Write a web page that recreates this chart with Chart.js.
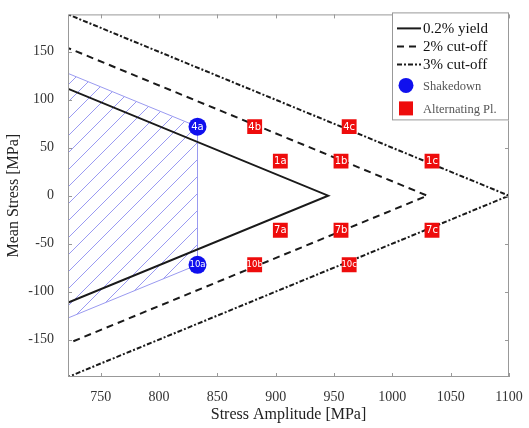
<!DOCTYPE html>
<html>
<head>
<meta charset="utf-8">
<script src="https://cdn.jsdelivr.net/npm/chart.js@4.4.0/dist/chart.umd.min.js"></script>
<style>
  html, body { margin: 0; padding: 0; background: #fff; }
  #wrap { width: 529px; height: 428px; }
</style>
</head>
<body>
<div id="wrap"><canvas id="myChart"></canvas></div>
<script>
// axis ticks
var xTicks = [750, 800, 850, 900, 950, 1000, 1050, 1100];
var yTicks = [-150, -100, -50, 0, 50, 100, 150];

// limit lines (stress amplitude / mean stress)
var yieldAmp = [700, 945, 700];
var yieldMean = [122.5, 0, -122.5];
var cut2Amp = [700, 1030, 700];
var cut2Mean = [165, 0, -165];
var cut3Amp = [700, 1100, 700];
var cut3Mean = [200, 0, -200];

// hatched shakedown region
var safeAmp = [722, 833, 833, 722, 722];
var safeMean = [127.5, 72, -72, -127.5, 127.5];

// test points
var shakeLabels = ['4a', '10a'];
var shakeAmp = [833, 833];
var shakeMean = [72, -72];
var altLabels = ['4b', '4c', '1a', '1b', '1c', '7a', '7b', '7c', '10b', '10c'];
var altAmp = [882, 963, 904, 956, 1034, 904, 956, 1034, 882, 963];
var altMean = [72, 72, 36, 36, 36, -36, -36, -36, -72, -72];

function pts(xs, ys) {
  return xs.map(function (x, i) { return { x: x, y: ys[i] }; });
}

// diagonal hatch pattern
function hatch() {
  var c = document.createElement('canvas');
  c.width = 17; c.height = 17;
  var g = c.getContext('2d');
  g.strokeStyle = '#9a9af2';
  g.lineWidth = 1;
  g.beginPath();
  g.moveTo(0, 17); g.lineTo(17, 0);
  g.moveTo(-2, 2); g.lineTo(2, -2);
  g.moveTo(15, 19); g.lineTo(19, 15);
  g.stroke();
  return g.createPattern(c, 'repeat');
}

var serif = "'Liberation Serif', 'Times New Roman', serif";

// frame + inward ticks
var framePlugin = {
  id: 'frame',
  afterDraw: function (chart) {
    var ctx = chart.ctx, a = chart.chartArea;
    var xs = chart.scales.x, ys = chart.scales.y;
    ctx.save();
    ctx.strokeStyle = '#999';
    ctx.lineWidth = 1;
    ctx.strokeRect(a.left + 0.5, a.top + 0.5, a.right - a.left - 1, a.bottom - a.top - 1);
    ctx.beginPath();
    xTicks.forEach(function (v) {
      var px = Math.round(xs.getPixelForValue(v)) + 0.5;
      ctx.moveTo(px, a.bottom); ctx.lineTo(px, a.bottom - 4);
      ctx.moveTo(px, a.top); ctx.lineTo(px, a.top + 4);
    });
    yTicks.forEach(function (v) {
      var py = Math.round(ys.getPixelForValue(v)) + 0.5;
      ctx.moveTo(a.left, py); ctx.lineTo(a.left + 4, py);
      ctx.moveTo(a.right, py); ctx.lineTo(a.right - 4, py);
    });
    ctx.stroke();
    ctx.restore();
  }
};

// text inside markers
var markerText = {
  id: 'markerText',
  afterDatasetsDraw: function (chart) {
    var ctx = chart.ctx;
    ctx.save();
    ctx.fillStyle = '#fff';
    ctx.textAlign = 'center';
    ctx.textBaseline = 'middle';
    chart.data.datasets.forEach(function (ds, i) {
      if (!ds.pointLabels) return;
      chart.getDatasetMeta(i).data.forEach(function (el, j) {
        var t = ds.pointLabels[j];
        ctx.font = (t.length > 2 ? '8.5px' : '10px') + " 'DejaVu Sans', sans-serif";
        ctx.fillText(t, el.x, el.y + 0.5);
      });
    });
    ctx.restore();
  }
};

// boxed legend inside the plot
var boxLegend = {
  id: 'boxLegend',
  afterDraw: function (chart) {
    var ctx = chart.ctx;
    var a = chart.chartArea;
    var x0 = a.right - 117, y0 = a.top - 2, w = 117, h = 108;
    ctx.save();
    ctx.fillStyle = '#fff';
    ctx.fillRect(x0, y0, w, h);
    ctx.strokeStyle = '#999';
    ctx.lineWidth = 1;
    ctx.strokeRect(x0 + 0.5, y0 + 0.5, w - 1, h - 1);
    var rows = [16, 34, 52, 73, 96];
    var k = 0;
    chart.data.datasets.forEach(function (ds) {
      if (!ds.label) return;
      var y = y0 + rows[k++];
      if (ds.showLine) {
        ctx.strokeStyle = ds.borderColor;
        ctx.lineWidth = 2;
        ctx.setLineDash(ds.borderDash || []);
        ctx.beginPath();
        ctx.moveTo(x0 + 5, y); ctx.lineTo(x0 + 29, y);
        ctx.stroke();
        ctx.setLineDash([]);
        ctx.fillStyle = '#111';
        ctx.font = '15px ' + serif;
      } else {
        ctx.fillStyle = ds.backgroundColor;
        if (ds.pointStyle === 'circle') {
          ctx.beginPath();
          ctx.arc(x0 + 14, y, 7.5, 0, Math.PI * 2);
          ctx.fill();
        } else {
          ctx.fillRect(x0 + 7, y - 7, 14, 14);
        }
        ctx.fillStyle = '#555';
        ctx.font = '12.5px ' + serif;
      }
      ctx.textAlign = 'left';
      ctx.textBaseline = 'middle';
      ctx.fillText(ds.label, x0 + 31, y + 1);
    });
    ctx.restore();
  }
};

var ctx = document.getElementById('myChart').getContext('2d');

var myChart = new Chart(ctx, {
  type: 'scatter',
  data: {
    datasets: [
      {
        data: pts(safeAmp, safeMean),
        order: 3,
        showLine: true,
        borderColor: '#9a9af0',
        borderWidth: 1,
        backgroundColor: hatch(),
        fill: 'shape',
        pointRadius: 0,
        tension: 0
      },
      {
        label: '0.2% yield',
        data: pts(yieldAmp, yieldMean),
        order: 2,
        showLine: true,
        borderColor: '#1a1a1a',
        borderWidth: 2,
        pointRadius: 0,
        fill: false
      },
      {
        label: '2% cut-off',
        data: pts(cut2Amp, cut2Mean),
        order: 2,
        showLine: true,
        borderColor: '#1a1a1a',
        borderWidth: 2,
        borderDash: [7, 5],
        pointRadius: 0,
        fill: false
      },
      {
        label: '3% cut-off',
        data: pts(cut3Amp, cut3Mean),
        order: 2,
        showLine: true,
        borderColor: '#1a1a1a',
        borderWidth: 2,
        borderDash: [5, 2, 2, 2],
        pointRadius: 0,
        fill: false
      },
      {
        label: 'Shakedown',
        data: pts(shakeAmp, shakeMean),
        order: 1,
        pointLabels: shakeLabels,
        pointStyle: 'circle',
        pointRadius: 9,
        backgroundColor: '#1010ee',
        borderColor: '#1010ee',
        borderWidth: 0
      },
      {
        label: 'Alternating Pl.',
        data: pts(altAmp, altMean),
        order: 1,
        pointLabels: altLabels,
        pointStyle: 'rect',
        pointRadius: 10.5,
        backgroundColor: '#ee0c0c',
        borderColor: '#ee0c0c',
        borderWidth: 0
      }
    ]
  },
  options: {
    responsive: true,
    maintainAspectRatio: false,
    animation: false,
    layout: { padding: { top: 12, right: 20, left: 0, bottom: 0 } },
    plugins: {
      legend: { display: false },
      tooltip: { enabled: false }
    },
    scales: {
      x: {
        type: 'linear',
        min: 722,
        max: 1100,
        afterBuildTicks: function (s) { s.ticks = xTicks.map(function (v) { return { value: v }; }); },
        afterFit: function (s) { s.height = 51; },
        grid: { display: false },
        border: { display: false },
        ticks: { color: '#333', font: { family: serif, size: 14 }, padding: 4, maxRotation: 0,
                 callback: function (v) { return String(v); } },
        title: { display: true, text: 'Stress Amplitude [MPa]', color: '#222', font: { family: serif, size: 16 }, padding: { top: 0 } }
      },
      y: {
        type: 'linear',
        min: -189,
        max: 189,
        afterBuildTicks: function (s) { s.ticks = yTicks.map(function (v) { return { value: v }; }); },
        afterFit: function (s) { s.width = 68; },
        grid: { display: false },
        border: { display: false },
        ticks: { color: '#333', font: { family: serif, size: 14 }, padding: 6,
                 callback: function (v) { return String(v); } },
        title: { display: true, text: 'Mean Stress [MPa]', color: '#222', font: { family: serif, size: 16 }, padding: { bottom: 0 } }
      }
    }
  },
  plugins: [framePlugin, markerText, boxLegend]
});
</script>
</body>
</html>
